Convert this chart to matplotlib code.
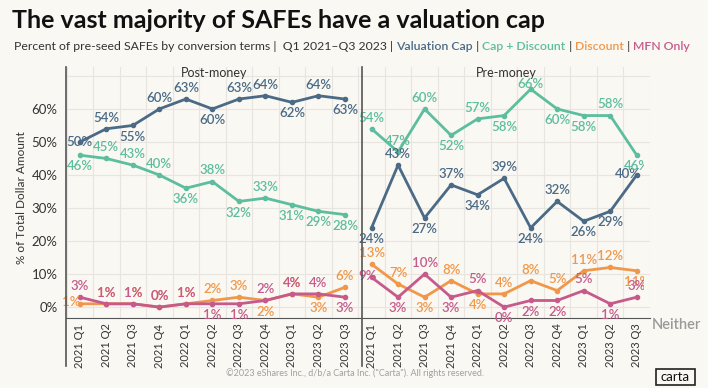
import numpy as np
import matplotlib
matplotlib.use('Agg')
import matplotlib.pyplot as plt
from matplotlib.lines import Line2D
from matplotlib.patches import Rectangle
from matplotlib.transforms import Bbox, TransformedBbox

quarters = ['2021 Q1', '2021 Q2', '2021 Q3', '2021 Q4', '2022 Q1', '2022 Q2',
            '2022 Q3', '2022 Q4', '2023 Q1', '2023 Q2', '2023 Q3']

# post-money
post_cap = [50, 54, 55, 60, 63, 60, 63, 64, 62, 64, 63]
post_capdisc = [46, 45, 43, 40, 36, 38, 32, 33, 31, 29, 28]
post_disc = [1, 1, 1, 0, 1, 2, 3, 2, 4, 3, 6]
post_mfn = [3, 1, 1, 0, 1, 1, 1, 2, 4, 4, 3]

# pre-money
pre_cap = [24, 43, 27, 37, 34, 39, 24, 32, 26, 29, 40]
pre_capdisc = [54, 47, 60, 52, 57, 58, 66, 60, 58, 58, 46]
pre_disc = [13, 7, 3, 8, 4, 4, 8, 5, 11, 12, 11]
pre_mfn = [9, 3, 10, 3, 5, 0, 2, 2, 5, 1, 3]

# label placement: a = above, b = below, c = on point, l = left, k = slightly left, u = just above
post_cap_pos = 'cabaabaabab'
post_capdisc_pos = 'baaabababbb'
post_disc_pos = 'laaaaaababa'
post_mfn_pos = 'aaaaabbaaab'
pre_cap_pos = 'bababababbl'
pre_capdisc_pos = 'aaababubbab'
pre_disc_pos = 'aababaaaaab'
pre_mfn_pos = 'kbababbbaba'

bg = '#FAF8F3'
c_cap = '#4A6A86'
c_capdisc = '#5CBE9E'
c_disc = '#F0974A'
c_mfn = '#C55A8B'
c_text = '#333333'

plt.rcParams['font.family'] = ['Lato', 'DejaVu Sans']

W, H = 708, 388
fig = plt.figure(figsize=(W / 100, H / 100), dpi=100, facecolor=bg)
ax = fig.add_axes([66 / W, 1 - 318 / H, (650 - 66) / W, (318 - 67) / H])
ax.set_facecolor(bg)

n = len(quarters)
x_post = np.arange(n)
x_pre = np.arange(n) + n

offsets = {'a': (0, 8), 'b': (0, -8), 'c': (0, 0), 'l': (-6, 1), 'k': (-2.5, 1), 'u': (0, 4)}

# labels are cut at the panel edges
clip_post = TransformedBbox(Bbox([[-3, -50], [n - 0.5, 150]]), ax.transData)
clip_pre = TransformedBbox(Bbox([[n - 0.5, -50], [2 * n - 1 + 0.26, 150]]), ax.transData)


def draw(xs, ys, pos, color, clip):
    ax.plot(xs, ys, color=color, lw=2, marker='o', ms=3, zorder=3)
    for x, y, p in zip(xs, ys, pos):
        t = ax.annotate(f'{y}%', (x, y), xytext=offsets[p], textcoords='offset points',
                        ha='center', va='center', color=color, fontsize=9.5,
                        fontweight='semibold', zorder=4)
        t.set_clip_box(clip)
        t.set_clip_on(True)


draw(x_post, post_cap, post_cap_pos, c_cap, clip_post)
draw(x_post, post_capdisc, post_capdisc_pos, c_capdisc, clip_post)
draw(x_post, post_disc, post_disc_pos, c_disc, clip_post)
draw(x_post, post_mfn, post_mfn_pos, c_mfn, clip_post)
draw(x_pre, pre_cap, pre_cap_pos, c_cap, clip_pre)
draw(x_pre, pre_capdisc, pre_capdisc_pos, c_capdisc, clip_pre)
draw(x_pre, pre_disc, pre_disc_pos, c_disc, clip_pre)
draw(x_pre, pre_mfn, pre_mfn_pos, c_mfn, clip_pre)

ax.set_xlim(-0.52, 2 * n - 1 + 0.26)
ax.set_ylim(-3.3, 72.7)
ax.set_yticks(np.arange(0, 80, 10))
ax.set_yticklabels([f'{v}%' for v in range(0, 70, 10)] + [''])
ax.set_xticks(np.concatenate([x_post, x_pre]))
ax.set_xticklabels(quarters + quarters, rotation=90, fontsize=8, color=c_text)
ax.set_xticks(np.arange(-0.5, 2 * n, 1), minor=True)
ax.tick_params(axis='both', which='both', length=0, colors=c_text)
ax.tick_params(axis='y', labelsize=9.5, pad=6)
ax.tick_params(axis='x', pad=4)
ax.grid(axis='y', color='#E8E5E0', lw=0.8)
ax.grid(axis='x', which='minor', color='#E8E5E0', lw=0.8)
for s in ['top', 'right', 'left']:
    ax.spines[s].set_visible(False)
ax.spines['bottom'].set_color('#555555')

# panel separators
for px in [66, 362]:
    fig.add_artist(Line2D([px / W, px / W], [1 - 67 / H, 1 - 366 / H],
                          color='#555555', lw=1.2))

fig.text(214 / W, 1 - 73 / H, 'Post-money', ha='center', va='center', fontsize=9, color=c_text)
fig.text(506 / W, 1 - 73 / H, 'Pre-money', ha='center', va='center', fontsize=9, color=c_text)
fig.text(22 / W, 1 - 198 / H, '% of Total Dollar Amount', rotation=90, ha='center',
         va='center', fontsize=8.5, color=c_text)
fig.text(652 / W, 1 - 325 / H, 'Neither', ha='left', va='center', fontsize=10.5,
         color='#9A9A9A', fontweight='semibold')

# title and subtitle
fig.text(12 / W, 1 - 20 / H, 'The vast majority of SAFEs have a valuation cap',
         ha='left', va='center', fontsize=18, fontweight='bold', color='#111111')

pieces = [('Percent of pre-seed SAFEs by conversion terms |  Q1 2021–Q3 2023 | ', c_text, 'normal'),
          ('Valuation Cap', c_cap, 'semibold'), (' | ', c_text, 'normal'),
          ('Cap + Discount', c_capdisc, 'semibold'), (' | ', c_text, 'normal'),
          ('Discount', c_disc, 'semibold'), (' | ', c_text, 'normal'),
          ('MFN Only', c_mfn, 'semibold')]
r = fig.canvas.get_renderer()
xpos = 14 / W
for s, c, w in pieces:
    t = fig.text(xpos, 1 - 47 / H, s, ha='left', va='center', fontsize=8.8, color=c, fontweight=w)
    bb = t.get_window_extent(renderer=r)
    xpos = bb.x1 / fig.bbox.width

fig.text(355 / W, 1 - 373 / H, '©2023 eShares Inc., d/b/a Carta Inc. ("Carta"). All rights reserved.',
         ha='center', va='center', fontsize=6.5, color='#A0A0A0')
fig.add_artist(Rectangle((656 / W, 1 - 385 / H), 39 / W, 16 / H, transform=fig.transFigure,
                         fill=False, ec='#222222', lw=1.2))
fig.text(675.5 / W, 1 - 377 / H, 'carta', ha='center', va='center', fontsize=9.5, color='#111111')

fig.savefig('out.png', dpi=100, facecolor=bg)
